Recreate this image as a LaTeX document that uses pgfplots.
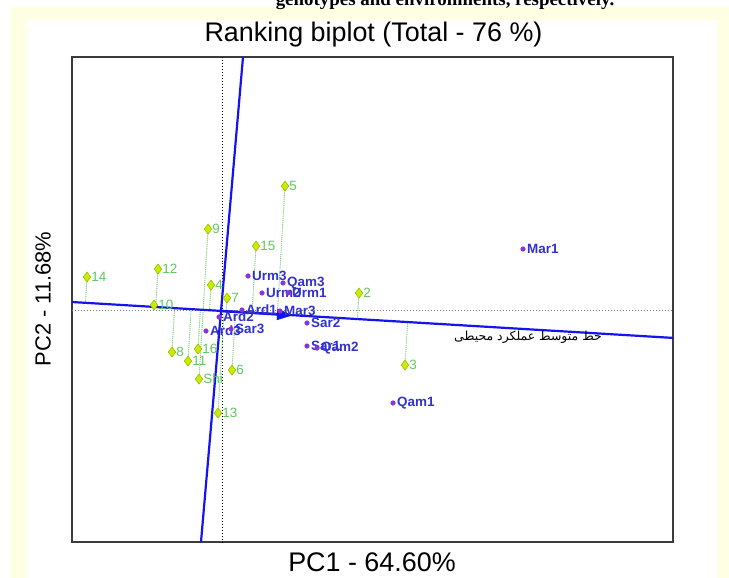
\documentclass[border=0pt]{standalone}
\usepackage{pgfplots}
\pgfplotsset{compat=1.18}
\usepackage{fontspec}
\setmainfont{Liberation Sans}
\newfontfamily\timesfont{Liberation Serif}
\newfontfamily\arabicfont[Script=Arabic]{DejaVu Sans}
\TeXXeTstate=1
\usetikzlibrary{arrows.meta}
\definecolor{bgy}{RGB}{255,255,228}
\definecolor{genfill}{RGB}{205,235,0}
\definecolor{gendraw}{RGB}{150,195,0}
\definecolor{genlab}{RGB}{95,200,95}
\definecolor{envdot}{RGB}{140,50,220}
\definecolor{envlab}{RGB}{50,50,205}
\definecolor{aec}{RGB}{20,20,240}
\definecolor{frame}{RGB}{60,60,60}

\pgfplotstableread{
x y lab
87 277 14
158 269 12
208 229 9
285 186 5
256 246 15
211 285 4
227 298 7
154 305 10
359 293 2
172 352 8
188 361 11
198 349 16
232 370 6
199 379 Shi
218 413 13
405 365 3
}\genotypes

\pgfplotstableread{
x y lab
523 249 Mar1
393 403 Qam1
248 276 Urm3
283 283 Qam3
262 293 Urm2
288 293 Urm1
242 310 Ard1
280 311 Mar3
219 317 Ard2
206 331 Ard3
231 329 Sar3
307 323 Sar2
307 346 Sar1
317 348 Qam2
}\environments

\begin{document}
\begin{tikzpicture}
\useasboundingbox (0bp,0bp) rectangle (729bp,-578bp);
\fill[white] (0bp,0bp) rectangle (729bp,-578bp);
\fill[bgy] (10bp,-7bp) rectangle (729bp,-578bp);
\fill[white] (27bp,-20bp) rectangle (718bp,-578bp);
\begin{scope}
\clip (0bp,0bp) rectangle (729bp,-578bp);
\node[font=\timesfont\bfseries\fontsize{19}{20}\selectfont, anchor=base] at (445bp,-5.5bp) {genotypes and environments, respectively.};
\end{scope}
\begin{axis}[
  at={(72bp,-57bp)}, anchor=north west,
  scale only axis, width=601bp, height=485bp,
  xmin=72, xmax=673, ymin=57, ymax=542, y dir=reverse,
  axis line style={frame, line width=1.8bp},
  ticks=none, clip=true, unbounded coords=jump]
\addplot[gray, dotted, line width=1bp] coordinates {(72,310.5) (673,310.5)};
\addplot[black, dotted, line width=1bp] coordinates {(222,57) (222,542)};
\addplot[genlab, densely dotted, line width=0.9bp] coordinates {
(87,277) (85.5,302.8) (nan,nan)
(158,269) (155.7,307.0) (nan,nan)
(208,229) (203.2,309.8) (nan,nan)
(285,186) (277.3,314.3) (nan,nan)
(256,246) (252.0,312.8) (nan,nan)
(211,285) (209.5,310.2) (nan,nan)
(227,298) (226.2,311.2) (nan,nan)
(154,305) (153.9,306.9) (nan,nan)
(359,293) (357.4,319.0) (nan,nan)
(172,352) (174.6,308.1) (nan,nan)
(188,361) (191.1,309.1) (nan,nan)
(198,349) (200.4,309.7) (nan,nan)
(232,370) (235.5,311.8) (nan,nan)
(199,379) (203.1,309.8) (nan,nan)
(218,413) (224.1,311.1) (nan,nan)
(405,365) (407.6,322.0)
};
\addplot[only marks, mark=diamond*, mark size=5bp,
  mark options={fill=genfill, draw=gendraw, line width=0.6bp},
  nodes near coords, point meta=explicit symbolic,
  every node near coord/.append style={anchor=west, text=genlab,
    font=\fontsize{13.5}{13.5}\selectfont, inner sep=1bp, xshift=3bp}]
  table[x=x, y=y, meta=lab] {\genotypes};
\addplot[only marks, mark=*, mark size=2.3bp, envdot,
  nodes near coords, point meta=explicit symbolic,
  every node near coord/.append style={anchor=west, text=envlab,
    font=\bfseries\fontsize{13.5}{13.5}\selectfont, inner sep=1bp, xshift=3bp}]
  table[x=x, y=y, meta=lab] {\environments};
\addplot[aec, line width=2.2bp] coordinates {(72,302) (673,337.9)};
\addplot[aec, line width=2.2bp] coordinates {(243,57) (201,542)};
\addplot[aec, line width=2.4bp, -{Triangle[length=16bp,width=11bp]}] coordinates {(221,311) (293,315.3)};
\node[font=\arabicfont\fontsize{12.5}{12.5}\selectfont] at (axis cs:528,337) {\beginR خط متوسط عملکرد محیطی\endR};
\end{axis}
\node[font=\fontsize{27}{27}\selectfont] at (373.5bp,-35bp) {Ranking biplot (Total - 76 \%)};
\node[font=\fontsize{27}{27}\selectfont] at (372bp,-562bp) {PC1 - 64.60\%};
\node[font=\fontsize{22}{22}\selectfont, rotate=90] at (43bp,-299bp) {PC2 - 11.68\%};
\end{tikzpicture}
\end{document}
